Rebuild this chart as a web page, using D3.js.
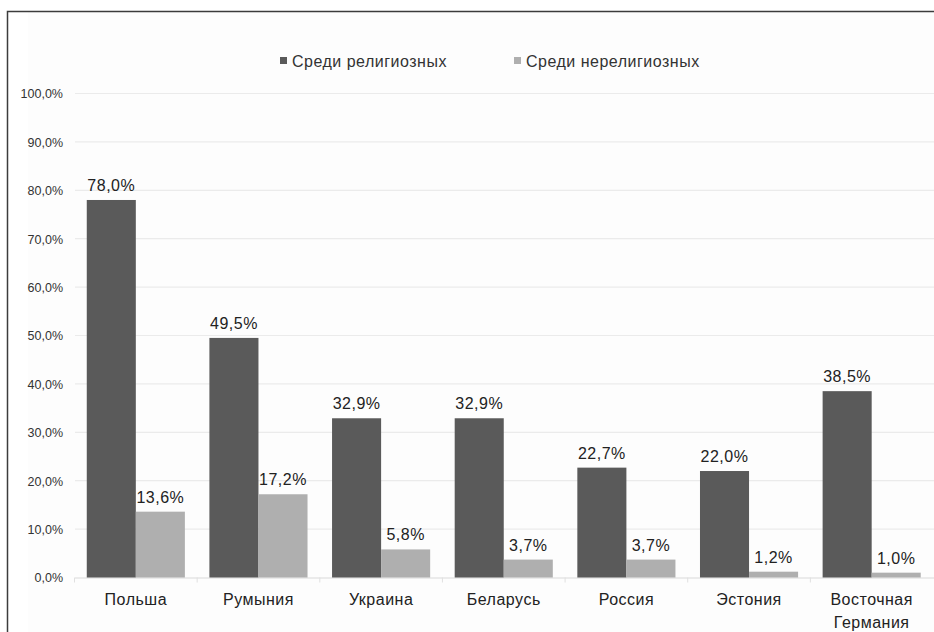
<!DOCTYPE html>
<html>
<head>
<meta charset="utf-8">
<script src="https://cdn.jsdelivr.net/npm/d3@7"></script>
<style>
  body { margin: 0; background: #fff; }
  svg { display: block; font-family: "Liberation Sans", Arial, sans-serif; }
</style>
</head>
<body>
<svg id="chart" width="934" height="632"></svg>
<script>
// data
let countries = ["Польша", "Румыния", "Украина", "Беларусь", "Россия", "Эстония", "Восточная Германия"];
let religious = [78.0, 49.5, 32.9, 32.9, 22.7, 22.0, 38.5];
let nonreligious = [13.6, 17.2, 5.8, 3.7, 3.7, 1.2, 1.0];
let seriesNames = ["Среди религиозных", "Среди нерелигиозных"];
let yTicks = [0, 10, 20, 30, 40, 50, 60, 70, 80, 90, 100];

let chart = d3.select("#chart");
let fmt = function(v) { return d3.format(".1f")(v).replace(".", ",") + "%"; };

let color = d3.scaleOrdinal()
    .domain(seriesNames)
    .range(["#5a5a5a", "#afafaf"]);

// frame (cropped scan look)
chart.append("rect")
    .attr("x", 28).attr("y", 12)
    .attr("width", 906).attr("height", 620)
    .attr("fill", "#fdfdfd");
chart.append("path")
    .attr("d", "M7.5,632 V11.5 H934")
    .attr("fill", "none")
    .attr("stroke", "#3c3c3c")
    .attr("stroke-width", 1.5);

// x scales
let x = d3.scaleBand()
    .domain(countries)
    .range([74.5, 933])
    .paddingInner(0.2)
    .paddingOuter(0.1);
let xs = d3.scaleBand()
    .domain(seriesNames)
    .range([0, x.bandwidth()]);

// y scale
let y = d3.scaleLinear()
    .domain([0, 100])
    .range([577.5, 93.5]);

// grid
chart.append("g")
    .selectAll("line")
    .data(yTicks.slice(1))
    .enter()
    .append("line")
    .attr("x1", 75).attr("x2", 934)
    .attr("y1", function(d) { return y(d); })
    .attr("y2", function(d) { return y(d); })
    .attr("stroke", "#ebebeb")
    .attr("stroke-width", 1.2);

// y labels
let yAxis = d3.axisLeft(y)
    .tickValues(yTicks)
    .tickSize(0)
    .tickPadding(0)
    .tickFormat(fmt);
let yAxisGroup = chart.append("g")
    .attr("transform", "translate(63,0)")
    .call(yAxis);
yAxisGroup.select(".domain").remove();
yAxisGroup.selectAll("text")
    .attr("dy", "0.35em")
    .style("font-size", "12.5px")
    .style("font-family", "\"Liberation Sans\", Arial, sans-serif")
    .style("fill", "#333");

// x axis
let xAxis = d3.axisBottom(x).tickSize(0).tickFormat("");
let xAxisGroup = chart.append("g")
    .attr("transform", "translate(0," + y(0) + ")")
    .call(xAxis);
xAxisGroup.select(".domain")
    .attr("stroke", "#d9d9d9")
    .attr("stroke-width", 1.2)
    .attr("d", "M75,0.5 H934");
chart.append("g").selectAll("line")
    .data(countries)
    .enter()
    .append("line")
    .attr("x1", function(d) { return x(d) - x.step() * x.paddingInner() / 2; })
    .attr("x2", function(d) { return x(d) - x.step() * x.paddingInner() / 2; })
    .attr("y1", y(0)).attr("y2", y(0) + 5)
    .attr("stroke", "#e0e0e0");

// category labels
let catLabels = chart.append("g").selectAll("text")
    .data(countries)
    .enter()
    .append("text")
    .attr("text-anchor", "middle")
    .attr("y", 605)
    .style("font-size", "16px")
    .style("letter-spacing", "0.5px")
    .style("fill", "#222");
catLabels.each(function(d) {
    let words = d.split(" ");
    let t = d3.select(this);
    let cx = x(d) + x.bandwidth() / 2;
    words.forEach(function(w, i) {
        t.append("tspan").attr("x", cx).attr("dy", i === 0 ? 0 : 23).text(w);
    });
});

// bars
let rows = [];
countries.forEach(function(c, i) {
    rows.push({country: c, series: seriesNames[0], value: religious[i]});
    rows.push({country: c, series: seriesNames[1], value: nonreligious[i]});
});

let barGraph = chart.append("g").selectAll("rect")
    .data(rows)
    .enter()
    .append("rect")
    .attr("x", function(d) { return x(d.country) + xs(d.series); })
    .attr("y", function(d) { return y(d.value); })
    .attr("width", xs.bandwidth())
    .attr("height", function(d) { return y(0) - y(d.value); })
    .attr("fill", function(d) { return color(d.series); });

// value labels
chart.append("g").selectAll("text")
    .data(rows)
    .enter()
    .append("text")
    .attr("x", function(d) { return x(d.country) + xs(d.series) + xs.bandwidth() / 2; })
    .attr("y", function(d) { return y(d.value) - 9; })
    .attr("text-anchor", "middle")
    .style("font-size", "16px")
    .style("letter-spacing", "0.5px")
    .style("fill", "#222")
    .text(function(d) { return fmt(d.value); });

// legend
let legendX = [280, 514];
let legend = chart.append("g").selectAll("g")
    .data(seriesNames)
    .enter()
    .append("g")
    .attr("transform", function(d, i) { return "translate(" + legendX[i] + ",0)"; });
legend.append("rect")
    .attr("x", 0).attr("y", 57)
    .attr("width", 7).attr("height", 7)
    .attr("fill", function(d) { return color(d); });
legend.append("text")
    .attr("x", 12).attr("y", 66.5)
    .style("font-size", "16px")
    .style("letter-spacing", "0.5px")
    .style("fill", "#333")
    .text(function(d) { return d; });
</script>
</body>
</html>
